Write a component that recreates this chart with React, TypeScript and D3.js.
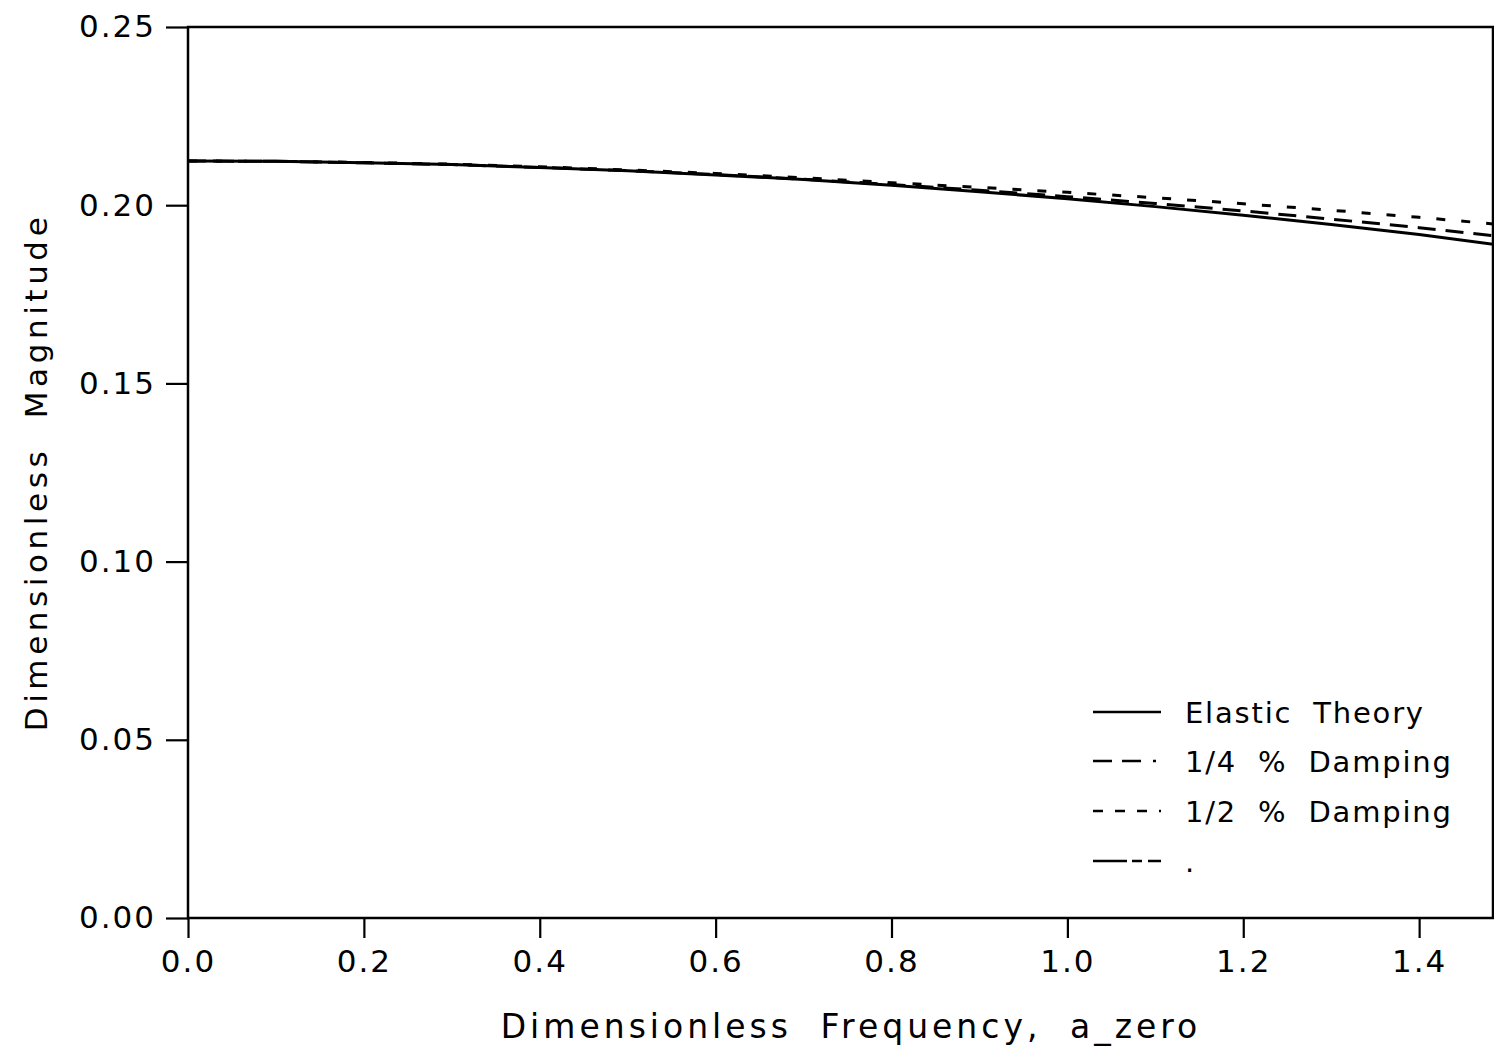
import React, { useEffect, useRef } from "react";
import * as d3 from "d3";

// values
const freq = [0, 0.1, 0.2, 0.3, 0.4, 0.5, 0.6, 0.7, 0.8, 0.9, 1.0, 1.1, 1.2, 1.3, 1.4, 1.5];
const elastic = [0.2124, 0.2123, 0.2119, 0.2114, 0.2106, 0.2097, 0.2085, 0.2072, 0.2056, 0.2038, 0.2018, 0.1996, 0.1972, 0.1946, 0.1918, 0.1885];
const quarterDamp = [0.2124, 0.2123, 0.2119, 0.2114, 0.2106, 0.2097, 0.2086, 0.2073, 0.2058, 0.2042, 0.2024, 0.2005, 0.1984, 0.1961, 0.1937, 0.191];
const halfDamp = [0.2124, 0.2123, 0.212, 0.2115, 0.2108, 0.2099, 0.2089, 0.2077, 0.2063, 0.205, 0.2036, 0.2021, 0.2004, 0.1986, 0.1966, 0.1944];

const xTicks = [0, 0.2, 0.4, 0.6, 0.8, 1.0, 1.2, 1.4];
const yTicks = [0, 0.05, 0.1, 0.15, 0.2, 0.25];
const xMax = 1.484;
const yMax = 0.25;

const legendLabels = ["Elastic Theory", "1/4 % Damping", "1/2 % Damping", "."];
const dashes = [null, "18,10", "9,16", "34,5,10,6,14"];
const legendDashes = [null, "19,10,19,12,3,40", "10,12", "34,5,10,6,14"];

const FONT = "'DejaVu Sans', sans-serif";

export default function App() {
  const ref = useRef<SVGSVGElement>(null);

  useEffect(() => {
    const svg = d3.select(ref.current);
    svg.selectAll("*").remove();

    const left = 188, right = 1493, top = 27, bottom = 918;

    const x = d3.scaleLinear().domain([0, xMax]).range([left, right]);
    const y = d3.scaleLinear().domain([0, yMax]).range([bottom, top]);

    svg.append("defs").append("clipPath").attr("id", "plotclip")
      .append("rect")
      .attr("x", left).attr("y", top)
      .attr("width", right - left).attr("height", bottom - top);

    // frame
    svg.append("rect")
      .attr("x", left).attr("y", top)
      .attr("width", right - left).attr("height", bottom - top)
      .attr("fill", "none")
      .attr("stroke", "#000")
      .attr("stroke-width", 2.5);

    const xAxis = svg.append("g")
      .attr("transform", `translate(0,${bottom})`)
      .call(d3.axisBottom(x).tickValues(xTicks).tickFormat(d3.format(".1f")).tickSizeInner(20).tickSizeOuter(0).tickPadding(12));

    const yAxis = svg.append("g")
      .attr("transform", `translate(${left},0)`)
      .call(d3.axisLeft(y).tickValues(yTicks).tickFormat(d3.format(".2f")).tickSizeInner(22).tickSizeOuter(0).tickPadding(10));

    [xAxis, yAxis].forEach(g => {
      g.select(".domain").remove();
      g.selectAll("line").attr("stroke", "#000").attr("stroke-width", 2.2);
      g.selectAll("text")
        .attr("fill", "#000")
        .style("font-family", FONT)
        .style("font-size", "31px")
        .style("letter-spacing", "2px");
    });

    const series = [elastic, quarterDamp, halfDamp];
    const line = d3.line<number>()
      .x((d, i) => x(freq[i]))
      .y(d => y(d));

    svg.append("g")
      .attr("clip-path", "url(#plotclip)")
      .selectAll("path")
      .data(series)
      .join("path")
      .attr("d", d => line(d))
      .attr("fill", "none")
      .attr("stroke", "#000")
      .attr("stroke-width", 3)
      .attr("stroke-dasharray", (d, i) => dashes[i]);

    // legend
    const lg = svg.append("g");
    const rowY = [712, 761, 811, 861];
    legendLabels.forEach((lab, i) => {
      lg.append("line")
        .attr("x1", 1093).attr("x2", 1161)
        .attr("y1", rowY[i]).attr("y2", rowY[i])
        .attr("stroke", "#000")
        .attr("stroke-width", 2.5)
        .attr("stroke-dasharray", legendDashes[i]);
      lg.append("text")
        .attr("x", 1185).attr("y", rowY[i] + 11)
        .style("font-family", FONT)
        .style("font-size", "29px")
        .style("letter-spacing", "1.8px")
        .style("word-spacing", "10px")
        .text(lab);
    });

    svg.append("text")
      .attr("x", 851).attr("y", 1038)
      .attr("text-anchor", "middle")
      .style("font-family", FONT)
      .style("font-size", "33px")
      .style("letter-spacing", "4px")
      .style("word-spacing", "14px")
      .text("Dimensionless Frequency, a_zero");

    svg.append("text")
      .attr("transform", "translate(47,472) rotate(-90)")
      .attr("text-anchor", "middle")
      .style("font-family", FONT)
      .style("font-size", "31px")
      .style("letter-spacing", "4.6px")
      .style("word-spacing", "14px")
      .text("Dimensionless Magnitude");
  }, []);

  return (
    <svg
      ref={ref}
      width={1494}
      height={1049}
      style={{ position: "absolute", left: 0, top: 0, background: "#fff" }}
    />
  );
}
